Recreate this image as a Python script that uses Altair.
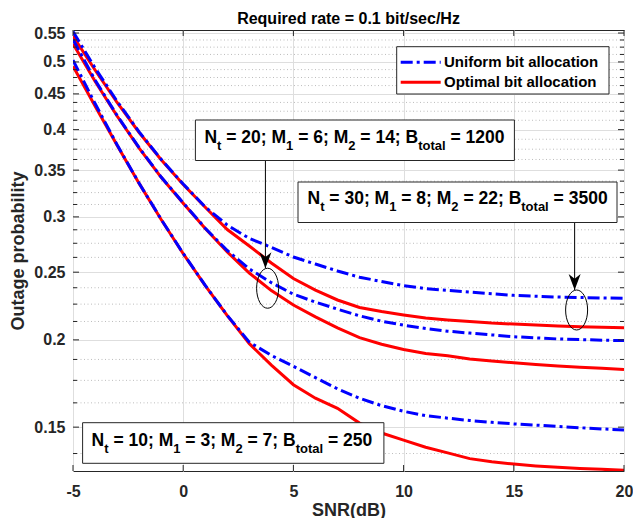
import altair as alt
import pandas as pd

# ---------------- data ----------------
snr = list(range(-5, 21))
uniform_nt30 = [0.5527, 0.4902, 0.4392, 0.3970, 0.3627, 0.3343, 0.3100, 0.2920, 0.2794, 0.2713, 0.2628,
                0.2568, 0.2510, 0.2459, 0.2424, 0.2392, 0.2368, 0.2354, 0.2341, 0.2328, 0.2316,
                0.2309, 0.2303, 0.2300, 0.2296, 0.2294]
optimal_nt30 = [0.5446, 0.4868, 0.4374, 0.3962, 0.3622, 0.3337, 0.3096, 0.2877, 0.2725, 0.2577, 0.2448,
                0.2357, 0.2281, 0.2225, 0.2196, 0.2171, 0.2149, 0.2136, 0.2125, 0.2114, 0.2107,
                0.2101, 0.2094, 0.2088, 0.2085, 0.2082]
uniform_nt20 = [0.5383, 0.4711, 0.4191, 0.3769, 0.3421, 0.3142, 0.2890, 0.2685, 0.2527, 0.2415, 0.2325,
                0.2265, 0.2213, 0.2165, 0.2127, 0.2099, 0.2077, 0.2058, 0.2045, 0.2033, 0.2021,
                0.2013, 0.2006, 0.2002, 0.1998, 0.1995]
optimal_nt20 = [0.5309, 0.4690, 0.4183, 0.3764, 0.3418, 0.3137, 0.2887, 0.2672, 0.2493, 0.2353, 0.2244,
                0.2157, 0.2081, 0.2015, 0.1971, 0.1938, 0.1912, 0.1898, 0.1878, 0.1866, 0.1855,
                0.1844, 0.1835, 0.1827, 0.1821, 0.1814]
uniform_nt10 = [0.5030, 0.4360, 0.3805, 0.3352, 0.2976, 0.2659, 0.2393, 0.2168, 0.1985, 0.1900, 0.1833,
                0.1766, 0.1702, 0.1650, 0.1610, 0.1580, 0.1558, 0.1545, 0.1533, 0.1524, 0.1516,
                0.1510, 0.1503, 0.1497, 0.1491, 0.1486]
optimal_nt10 = [0.4930, 0.4324, 0.3800, 0.3350, 0.2974, 0.2657, 0.2391, 0.2166, 0.1975, 0.1840, 0.1725,
                0.1650, 0.1596, 0.1520, 0.1471, 0.1437, 0.1404, 0.1378, 0.1352, 0.1338, 0.1328,
                0.1320, 0.1314, 0.1309, 0.1305, 0.1301]

x_ticks = [-5, 0, 5, 10, 15, 20]
y_major = [0.15, 0.2, 0.25, 0.3, 0.35, 0.4, 0.45, 0.5, 0.55]
y_minor = [0.1375, 0.1625, 0.175, 0.1875, 0.2125, 0.225, 0.2375, 0.2625, 0.275, 0.2875,
           0.3125, 0.325, 0.3375, 0.3625, 0.375, 0.3875, 0.4125, 0.425, 0.4375,
           0.4625, 0.475, 0.4875, 0.5125, 0.525, 0.5375]

legend_labels = ["Uniform bit allocation", "Optimal bit allocation"]
box_params = [(20, 6, 14, 1200), (30, 8, 22, 3500), (10, 3, 7, 250)]

# annotation anchors in data units (ellipses around curves, arrows pointing at them)
ellipse_x = [3.83, 17.85]
ellipse_y = [0.2371, 0.2207]
arrow_x = [3.73, 17.76]
arrow_top = [0.3618, 0.2944]
arrow_tip = [0.2532, 0.2357]

# ---------------- build tables ----------------
rows = []
for name, scheme, vals in [("Nt30", "uniform", uniform_nt30), ("Nt30", "optimal", optimal_nt30),
                           ("Nt20", "uniform", uniform_nt20), ("Nt20", "optimal", optimal_nt20),
                           ("Nt10", "uniform", uniform_nt10), ("Nt10", "optimal", optimal_nt10)]:
    for x, v in zip(snr, vals):
        rows.append({"snr": x, "p": v, "curve": name + scheme, "scheme": scheme})
df = pd.DataFrame(rows)

F = "Liberation Sans"
W, H = 551, 441
DARK = "#262626"
BLUE = "#0000ff"
RED = "#ff0000"
DASHDOT = [12, 4, 3, 4]

xs = alt.Scale(domain=[-5, 20], nice=False, zero=False)
ys = alt.Scale(type="log", domain=[0.1298, 0.5555], nice=False)

dummy = pd.DataFrame({"d": [0]})

x_axis = alt.Axis(values=x_ticks, grid=True, gridColor="#dedede", gridWidth=1, ticks=False, tickSize=0,
                  domain=False, labelFont=F, labelFontSize=16, labelFontWeight="bold", labelColor=DARK,
                  labelPadding=12, labelFlush=False, labelOverlap=False,
                  labelExpr="datum.value < 0 ? '-' + abs(datum.value) : '' + datum.value",
                  title="SNR(dB)", titleFont=F, titleFontSize=18, titleFontWeight="bold",
                  titleColor=DARK, titleY=44, titleBaseline="alphabetic")
y_axis = alt.Axis(values=y_major, format=".2~f", grid=True, gridColor="#dedede", gridWidth=1,
                  ticks=False, tickSize=0, domain=False, labelFont=F, labelFontSize=16,
                  labelFontWeight="bold", labelColor=DARK, labelPadding=8, labelOverlap=False,
                  title="Outage probability", titleFont=F, titleFontSize=18, titleFontWeight="bold",
                  titleColor=DARK, titleX=-49.5, titleBaseline="alphabetic")


def X(field):
    return alt.X(field, scale=xs, axis=x_axis)


def Y(field):
    return alt.Y(field, scale=ys, axis=y_axis)


layers = []

# minor dotted grid
layers.append(alt.Chart(pd.DataFrame({"v": y_minor})).mark_rule(
    color="#bdbdbd", strokeWidth=1, strokeDash=[1, 2.5]).encode(y=Y("v:Q")))

# curves: optimal (red, solid) below uniform (blue, dash-dot)
layers.append(alt.Chart(df[df.scheme == "optimal"]).mark_line(
    color=RED, strokeWidth=3, clip=True).encode(x=X("snr:Q"), y=Y("p:Q"), detail="curve:N"))
layers.append(alt.Chart(df[df.scheme == "uniform"]).mark_line(
    color=BLUE, strokeWidth=3, strokeDash=DASHDOT, clip=True).encode(
    x=X("snr:Q"), y=Y("p:Q"), detail="curve:N"))

# inner ticks (MATLAB box style)
ymaj = pd.DataFrame({"v": y_major})
ymin = pd.DataFrame({"v": y_minor})
xt = pd.DataFrame({"x": x_ticks})
for dat, ln in [(ymaj, 6), (ymin, 4)]:
    layers.append(alt.Chart(dat).mark_rule(color=DARK, strokeWidth=1).encode(
        y=Y("v:Q"), x=alt.value(0), x2=alt.value(ln)))
    layers.append(alt.Chart(dat).mark_rule(color=DARK, strokeWidth=1).encode(
        y=Y("v:Q"), x=alt.value(W - ln), x2=alt.value(W)))
layers.append(alt.Chart(xt).mark_rule(color=DARK, strokeWidth=1).encode(
    x=X("x:Q"), y=alt.value(H - 6), y2=alt.value(H)))
layers.append(alt.Chart(xt).mark_rule(color=DARK, strokeWidth=1).encode(
    x=X("x:Q"), y=alt.value(0), y2=alt.value(6)))

# ellipses
ELLIPSE = "M0,-1 A0.55,1 0 1,1 0,1 A0.55,1 0 1,1 0,-1 Z"
layers.append(alt.Chart(pd.DataFrame({"x": ellipse_x, "y": ellipse_y})).mark_point(
    shape=ELLIPSE, size=1600, filled=False, stroke="black", strokeWidth=1, opacity=1).encode(
    x=X("x:Q"), y=Y("y:Q")))

# arrows
arr = pd.DataFrame({"x": arrow_x, "top": arrow_top, "tip": arrow_tip})
layers.append(alt.Chart(arr).mark_rule(color="black", strokeWidth=1).encode(
    x=X("x:Q"), y=Y("top:Q"), y2="tip:Q"))
HEAD = "M0,0 L-0.75,-2 L0,-1.4 L0.75,-2 Z"
layers.append(alt.Chart(arr).mark_point(
    shape=HEAD, size=256, filled=True, color="black", opacity=1, strokeWidth=0).encode(
    x=X("x:Q"), y=Y("tip:Q")))

# ---------------- text boxes with subscripts ----------------
WID = {' ': 278, '=': 584, ';': 333, 'N': 722, 'M': 833, 'B': 722, 't': 333, 'o': 611, 'a': 556, 'l': 278}
for d in "0123456789":
    WID[d] = 556


def tw(s, size):
    return sum(WID.get(c, 556) for c in s) * size / 1000.0


MAIN, SUB, SUB_DY = 17.5, 13, 6.5
# (left, top, right, bottom, text_x, baseline) in plot pixels
box_geom = [(122.4, 90, 441.4, 130.5, 131.4, 113),
            (225, 152, 544, 192.5, 234.5, 174),
            (9.6, 392.7, 310.9, 433.3, 18.6, 416)]

for (nt, m1, m2, bt), (l, t, r, b, tx, by) in zip(box_params, box_geom):
    layers.append(alt.Chart(dummy).mark_rect(fill="white", stroke=DARK, strokeWidth=1).encode(
        x=alt.value(l), x2=alt.value(r), y=alt.value(t), y2=alt.value(b)))
    pieces = [("N", False), ("t", True), (f" = {nt}; M", False), ("1", True), (f" = {m1}; M", False),
              ("2", True), (f" = {m2}; B", False), ("total", True), (f" = {bt}", False)]
    cx = tx
    for s, sub in pieces:
        size = SUB if sub else MAIN
        st = s.lstrip(" ")
        lead = tw(s[:len(s) - len(st)], size)
        layers.append(alt.Chart(dummy).mark_text(
            text=st, align="left", baseline="alphabetic", font=F, fontWeight="bold",
            fontSize=size, color="black").encode(
            x=alt.value(cx + lead), y=alt.value(by + (SUB_DY if sub else 0))))
        cx += tw(s, size)

# ---------------- legend ----------------
LX = 323.7
layers.append(alt.Chart(dummy).mark_rect(fill="white", stroke=DARK, strokeWidth=1).encode(
    x=alt.value(LX), x2=alt.value(LX + 212.3), y=alt.value(16.7), y2=alt.value(64)))
for i, (lab, col, dash) in enumerate([(legend_labels[0], BLUE, DASHDOT), (legend_labels[1], RED, None)]):
    ly = 32.3 + 20 * i
    kw = dict(color=col, strokeWidth=3)
    if dash:
        kw["strokeDash"] = dash
    layers.append(alt.Chart(dummy).mark_rule(**kw).encode(
        x=alt.value(LX + 4), x2=alt.value(LX + 44), y=alt.value(ly)))
    layers.append(alt.Chart(dummy).mark_text(
        text=lab, align="left", baseline="middle", font=F, fontWeight="bold", fontSize=15,
        color="black").encode(x=alt.value(LX + 47.3), y=alt.value(ly)))

chart = alt.layer(*layers).properties(
    width=W, height=H,
    padding={"left": 65, "top": 22, "right": 9, "bottom": 47},
    autosize=alt.AutoSizeParams(type="none"),
    background="white",
    title=alt.TitleParams("Required rate = 0.1 bit/sec/Hz", font=F, fontSize=16, fontWeight="bold",
                          color="black", anchor="middle", offset=3, dy=4.5),
).configure_view(stroke=DARK, strokeWidth=1)

chart.save("out.html", embed_options={"renderer": "svg", "actions": False})
